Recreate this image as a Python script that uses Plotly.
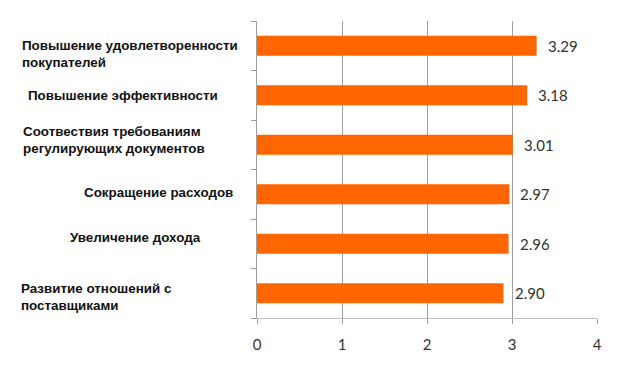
import plotly.graph_objects as go

categories = [
    "Повышение удовлетворенности<br>покупателей",
    "Повышение эффективности",
    "Соотвествия требованиям<br>регулирующих документов",
    "Сокращение расходов",
    "Увеличение дохода",
    "Развитие отношений с<br>поставщиками",
]
values = [3.29, 3.18, 3.01, 2.97, 2.96, 2.90]
value_labels = ["3.29", "3.18", "3.01", "2.97", "2.96", "2.90"]
x_ticks = [0, 1, 2, 3, 4]

# label placement (layout only): paper-x, anchor, vertical shift
label_x = [-0.697, -0.679, -0.694, -0.065, -0.159, -0.700]
label_anchor = ["left", "left", "left", "right", "right", "left"]
label_shift = [-8, 0, 5, 2, 6, -4]

ORANGE = "#FF6600"
GRID = "#9E9E9E"

fig = go.Figure()
fig.add_trace(go.Bar(
    x=values, y=list(range(len(categories))), orientation="h",
    marker=dict(color=ORANGE, line=dict(width=0)),
    width=0.4, hoverinfo="skip",
))

annotations = []
for i, (c, v, t) in enumerate(zip(categories, values, value_labels)):
    annotations.append(dict(
        x=v, y=i, xref="x", yref="y", text=t, showarrow=False,
        xanchor="left", xshift=9,
        font=dict(family="Lato", size=15, color="#333333"),
    ))
    annotations.append(dict(
        x=label_x[i], y=i, xref="paper", yref="y", text="<b>" + c + "</b>",
        showarrow=False, xanchor=label_anchor[i], align="left",
        yshift=label_shift[i],
        font=dict(family="Liberation Sans", size=13.4, color="#111111"),
    ))

fig.update_layout(
    width=622, height=375,
    margin=dict(l=257, r=25, t=21, b=57, autoexpand=False),
    paper_bgcolor="white", plot_bgcolor="white",
    showlegend=False,
    annotations=annotations,
    xaxis=dict(
        range=[0, 4], tickvals=x_ticks, ticktext=[str(v) for v in x_ticks],
        showgrid=True, gridcolor=GRID, gridwidth=1,
        showline=True, linecolor="#BFBFBF", linewidth=1,
        ticks="outside", ticklen=5, tickcolor=GRID,
        tickfont=dict(family="Lato", size=15, color="#333333"),
        ticklabelstandoff=8, automargin=False,
        zeroline=False, fixedrange=True,
    ),
    yaxis=dict(
        range=[len(categories) - 0.5, -0.5],
        tickvals=[i - 0.5 for i in range(len(categories) + 1)],
        ticktext=[""] * (len(categories) + 1),
        showgrid=False, showline=True, linecolor=GRID, linewidth=1,
        ticks="outside", ticklen=5, tickcolor=GRID, automargin=False,
        zeroline=False, fixedrange=True,
    ),
)

fig.write_html(
    "out.html",
    config={"displayModeBar": False},
    post_script="document.body.style.margin='0';",
)
